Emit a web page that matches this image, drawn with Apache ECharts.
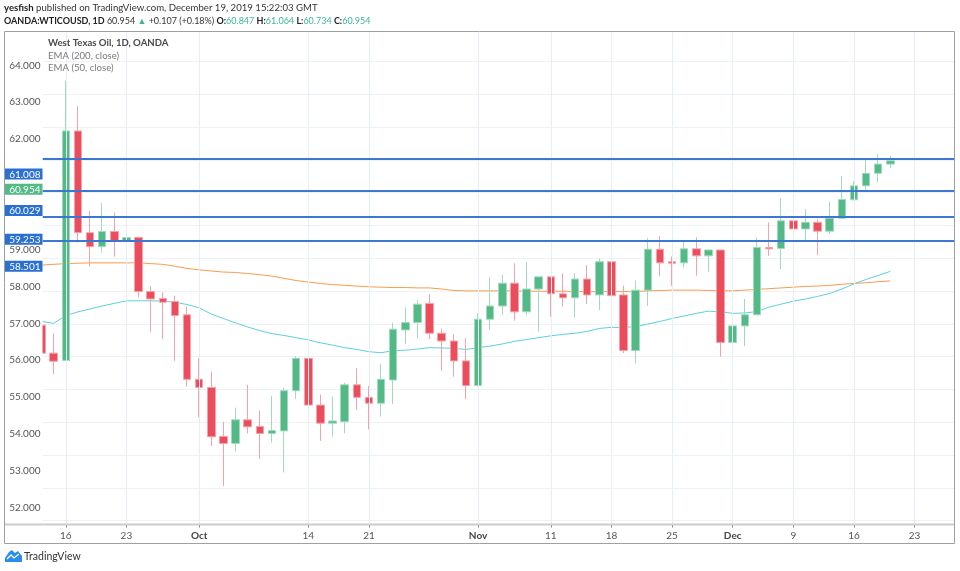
<!DOCTYPE html>
<html><head><meta charset="utf-8">
<script src="https://cdn.jsdelivr.net/npm/echarts@6/dist/echarts.min.js"></script>
<style>html,body{margin:0;padding:0;background:#fff}#c{width:960px;height:571px}</style>
</head><body><div id="c"></div>
<script>
// ---- data ----
const dates = ['2019-09-12','2019-09-13','2019-09-16','2019-09-17','2019-09-18','2019-09-19','2019-09-20',
'2019-09-23','2019-09-24','2019-09-25','2019-09-26','2019-09-27','2019-09-30','2019-10-01','2019-10-02',
'2019-10-03','2019-10-04','2019-10-07','2019-10-08','2019-10-09','2019-10-10','2019-10-11','2019-10-14',
'2019-10-15','2019-10-16','2019-10-17','2019-10-18','2019-10-21','2019-10-22','2019-10-23','2019-10-24',
'2019-10-25','2019-10-28','2019-10-29','2019-10-30','2019-10-31','2019-11-01','2019-11-04','2019-11-05',
'2019-11-06','2019-11-07','2019-11-08','2019-11-11','2019-11-12','2019-11-13','2019-11-14','2019-11-15',
'2019-11-18','2019-11-19','2019-11-20','2019-11-21','2019-11-22','2019-11-25','2019-11-26','2019-11-27',
'2019-11-28','2019-11-29','2019-12-02','2019-12-03','2019-12-04','2019-12-05','2019-12-06','2019-12-09',
'2019-12-10','2019-12-11','2019-12-12','2019-12-13','2019-12-16','2019-12-17','2019-12-18','2019-12-19'];
const openV  = [56.95,56.19,55.99,62.22,59.46,59.08,59.49,59.23,59.33,57.86,57.67,57.59,57.23,55.48,55.26,
53.93,53.74,54.38,54.20,54.01,54.08,55.17,56.05,54.78,54.29,54.33,55.33,54.99,54.83,55.46,56.82,57.02,57.54,
56.73,56.52,55.98,55.31,57.11,57.47,58.09,57.31,57.93,58.26,57.80,57.69,58.20,57.77,58.67,57.77,56.26,57.90,
59.01,58.67,58.64,59.02,58.83,58.99,56.48,56.93,57.23,59.06,59.03,59.78,59.56,59.74,59.50,59.85,60.35,60.73,
61.07,61.32];
const closeV = [56.19,55.97,62.22,59.46,59.08,59.49,59.23,59.33,57.86,57.66,57.57,57.21,55.48,55.26,53.92,
53.74,54.38,54.19,54.01,54.09,55.17,56.05,54.78,54.29,54.35,55.33,54.99,54.83,55.48,56.84,57.02,57.52,56.73,
56.52,55.98,55.31,57.11,57.47,58.09,57.31,57.93,58.26,57.80,57.69,58.20,57.77,58.67,57.75,56.26,57.90,59.01,
58.64,58.63,59.02,58.83,58.99,56.48,56.93,57.23,59.06,59.02,59.78,59.56,59.74,59.50,59.85,60.36,60.73,61.07,
61.32,61.41];
const lowV   = [56.15,55.62,55.97,59.19,58.54,58.92,58.81,58.34,57.71,56.76,56.57,55.98,55.28,54.45,53.67,
52.59,53.52,54.01,53.32,53.76,52.95,54.95,54.15,53.81,53.92,54.01,54.65,54.12,54.47,54.81,56.43,56.59,56.57,
55.71,55.55,54.94,55.28,56.82,57.23,57.07,57.21,56.77,57.18,57.45,57.16,57.52,57.36,57.47,56.19,55.91,57.47,
58.28,58.02,58.51,58.29,58.40,56.09,56.48,56.38,57.23,58.83,58.47,58.96,59.23,58.85,59.42,59.85,60.35,60.57,
60.82,61.21];
const highV  = [56.97,56.73,63.58,62.90,60.05,60.26,60.01,59.92,59.35,58.01,57.84,57.75,57.45,56.05,55.69,
54.33,54.71,55.33,54.63,55.03,55.24,56.11,56.05,55.07,55.01,55.39,55.78,55.30,55.89,57.02,57.43,57.63,57.80,
56.86,56.71,56.59,57.27,58.25,58.31,58.63,58.66,58.26,58.26,58.36,58.36,58.58,58.76,58.85,58.02,58.16,59.32,
59.37,58.81,59.24,59.33,58.99,58.99,57.57,57.66,59.33,59.74,60.39,59.88,60.10,59.83,60.30,61.00,60.86,61.48,
61.59,61.54];
const ema200 = [58.58,58.60,58.62,58.63,58.64,58.64,58.64,58.64,58.64,58.62,58.60,58.55,58.49,58.45,58.42,
58.39,58.38,58.35,58.32,58.28,58.22,58.16,58.12,58.08,58.05,58.03,58.01,57.99,57.98,57.97,57.97,57.96,57.96,
57.93,57.89,57.88,57.88,57.88,57.88,57.88,57.87,57.87,57.87,57.87,57.86,57.86,57.86,57.86,57.86,57.86,57.88,
57.89,57.90,57.90,57.90,57.89,57.88,57.88,57.90,57.92,57.94,57.96,57.98,58.00,58.01,58.03,58.06,58.08,58.10,
58.13,58.15];
const ema50  = [57.05,57.00,57.21,57.31,57.39,57.47,57.54,57.61,57.61,57.61,57.60,57.57,57.51,57.42,57.25,
57.13,57.01,56.90,56.80,56.72,56.67,56.61,56.55,56.47,56.41,56.34,56.29,56.23,56.20,56.26,56.27,56.30,56.34,
56.33,56.32,56.29,56.34,56.38,56.44,56.51,56.56,56.61,56.66,56.70,56.73,56.78,56.86,56.89,56.89,56.91,56.98,
57.05,57.13,57.20,57.27,57.33,57.31,57.27,57.28,57.32,57.44,57.52,57.60,57.66,57.73,57.81,57.93,58.07,58.19,
58.30,58.41];
const priceTicks = [52,53,54,55,56,57,58,59,60,61,62,63,64];
const xLabelIdx  = [2,7,13,22,27,36,42,47,52,57,62,67,72];
const xLabelText = ['16','23','Oct','14','21','Nov','11','18','25','Dec','9','16','23'];
const hLines     = [61.46,60.60,59.89,59.25];
const tagLevels  = [61.05,60.64,60.06,59.28,58.55];
const tagTexts   = ['61.008','60.954','60.029','59.253','58.501'];
const tagKinds   = ['b','g','b','b','b'];

// ---- chart ----
const FONT = 'Lato, "Liberation Sans", Arial, sans-serif';
const candles = dates.map((d,i)=>[i, openV[i], closeV[i], lowV[i], highV[i]]);
const idxSeries = a => a.map((v,i)=>[i,v]);
const chart = echarts.init(document.getElementById('c'), null, {renderer:'canvas'});
const nearest = (arr,v) => { let k=0; arr.forEach((a,i)=>{ if(Math.abs(a-v)<Math.abs(arr[k]-v)) k=i; }); return k; };

chart.setOption({
  animation:false,
  backgroundColor:'#ffffff',
  textStyle:{fontFamily:FONT},
  title:[
    {left:4, top:3, padding:0, text:'{b|yesfish} published on TradingView.com, December 19, 2019 15:22:03 GMT',
     textStyle:{fontSize:9.6, fontWeight:'normal', color:'#333', fontFamily:FONT,
       rich:{b:{fontSize:9.6, fontWeight:'bold', color:'#222', fontFamily:FONT}}}},
    {left:4, top:16.5, padding:0,
     text:'{b|OANDA:WTICOUSD, 1D} 60.954 {g|▲} +0.107 (+0.18%) {b|O:}{g|60.847} {b|H:}{g|61.064} {b|L:}{g|60.734} {b|C:}{g|60.954}',
     textStyle:{fontSize:9, fontWeight:'normal', color:'#333', fontFamily:FONT,
       rich:{b:{fontSize:9, fontWeight:'bold', color:'#222', fontFamily:FONT},
             g:{fontSize:9, color:'#3fb49b', fontFamily:FONT}}}},
    {left:48, top:38, padding:0, text:'West Texas Oil, 1D, OANDA',
     textStyle:{fontSize:9.6, fontWeight:'bold', color:'#4a4a4a', fontFamily:FONT}},
    {left:48, top:50.5, padding:0, text:'EMA (200, close)',
     textStyle:{fontSize:9.6, fontWeight:'normal', color:'#7a7a7a', fontFamily:FONT}},
    {left:48, top:62.5, padding:0, text:'EMA (50, close)',
     textStyle:{fontSize:9.6, fontWeight:'normal', color:'#7a7a7a', fontFamily:FONT}}
  ],
  grid:[
    {left:42.5, right:5.5, top:31, bottom:46.5, outerBoundsMode:'none', containLabel:false},
    {left:42.5, right:5.5, top:61.5, bottom:50.3, outerBoundsMode:'none', containLabel:false}
  ],
  xAxis:[
    {type:'value', gridIndex:0, min:0.08, max:75.29,
     axisLine:{show:false},
     axisTick:{show:true, customValues:xLabelIdx, length:3, lineStyle:{color:'#8a8a8a'}},
     axisLabel:{customValues:xLabelIdx, margin:6, fontSize:10, color:'#555', fontFamily:FONT,
       formatter:(v)=>{ const k=nearest(xLabelIdx,v); const t=xLabelText[k];
         return /^[A-Za-z]/.test(t) ? '{m|'+t+'}' : t; },
       rich:{m:{fontWeight:'bold', fontSize:10, color:'#444', fontFamily:FONT}}},
     splitLine:{show:false}},
    {type:'value', gridIndex:1, min:0, max:1, show:false}
  ],
  yAxis:[
    {type:'value', gridIndex:0, min:51.54, max:64.932, position:'left', z:60,
     axisLine:{show:false}, axisTick:{show:false}, splitLine:{show:false},
     axisLabel:{customValues:priceTicks, margin:2, fontSize:10, color:'#555', fontFamily:FONT,
       formatter:(v)=>v.toFixed(3)}},
    {type:'value', gridIndex:0, min:51.54, max:64.932, position:'left', z:61,
     axisLine:{show:false}, axisTick:{show:false}, splitLine:{show:false},
     axisLabel:{customValues:tagLevels, margin:0, fontFamily:FONT,
       formatter:(v)=>{ const k=nearest(tagLevels,v); return '{'+tagKinds[k]+'|'+tagTexts[k]+'}'; },
       rich:{
         b:{backgroundColor:'#2a6fd2', color:'#fff', fontSize:10, fontFamily:FONT, padding:[1,2,0,4], width:32, align:'right', lineHeight:11},
         g:{backgroundColor:'#53b987', color:'#fff', fontSize:10, fontFamily:FONT, padding:[1,2,0,4], width:32, align:'right', lineHeight:11}
       }}},
    {type:'value', gridIndex:1, min:0, max:14, interval:1,
     axisLine:{show:false}, axisTick:{show:false}, axisLabel:{show:false},
     splitLine:{show:true, lineStyle:{color:'#eef2f6', width:1}}}
  ],
  graphic:[
    {type:'rect', silent:true, z:50, shape:{x:5, y:32, width:37.5, height:491}, style:{fill:'#ffffff'}},
    {type:'rect', silent:true, z:100, shape:{x:4.5, y:31.5, width:950, height:512}, style:{fill:'none', stroke:'#a0a0a0', lineWidth:1}},
    {type:'rect', silent:true, z:99, shape:{x:5, y:523.5, width:949.5, height:2}, style:{fill:'#cccccc'}},
    {type:'polygon', silent:true, shape:{points:[[5,562],[5,558],[9,552],[12,550],[15,553],[18,551],[22,556],[22,562]]}, style:{fill:'#2a8de8'}},
    {type:'polyline', silent:true, shape:{points:[[7,559],[11,555],[14,558],[19,554]]}, style:{stroke:'#fff', lineWidth:1.3, fill:'none'}},
    {type:'text', silent:true, x:24, y:557, style:{text:'TradingView', fontSize:10.5, fill:'#333', fontFamily:FONT, verticalAlign:'middle'}}
  ],
  series:[
    {type:'line', xAxisIndex:0, yAxisIndex:0, data:[], z:0, silent:true,
     markLine:{silent:true, symbol:['none','none'], label:{show:false}, animation:false,
       lineStyle:{color:'#e6eef6', width:1, type:'solid'},
       data:xLabelIdx.map(v=>({xAxis:v}))}},
    {type:'line', name:'EMA (200, close)', xAxisIndex:0, yAxisIndex:0, data:idxSeries(ema200),
     showSymbol:false, symbol:'none', lineStyle:{color:'#f89c4e', width:1}, z:3},
    {type:'line', name:'EMA (50, close)', xAxisIndex:0, yAxisIndex:0, data:idxSeries(ema50),
     showSymbol:false, symbol:'none', lineStyle:{color:'#5ccfe0', width:1}, z:3},
    {type:'candlestick', name:'WTICOUSD', xAxisIndex:0, yAxisIndex:0, data:candles,
     encode:{x:0, y:[1,2,3,4]}, barWidth:8, clip:true, z:4,
     itemStyle:{color:'#53b987', color0:'#eb4d5c', borderColor:'#a3d9bd', borderColor0:'#f3a3ab', borderWidth:1},
     markLine:{silent:true, symbol:['none','none'], label:{show:false}, animation:false,
       lineStyle:{color:'#3b78d4', width:2, type:'solid'},
       data:hLines.map(v=>({yAxis:v}))}}
  ]
});
</script></body></html>
